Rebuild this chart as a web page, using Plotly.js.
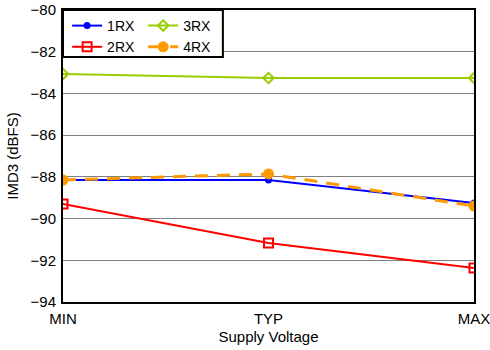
<!DOCTYPE html>
<html>
<head>
<meta charset="utf-8">
<script src="https://cdn.plot.ly/plotly-3.0.1.min.js"></script>
<style>html,body{margin:0;padding:0;background:#fff;}#chart{width:490px;height:350px;}</style>
</head>
<body>
<div id="chart"></div>
<script>
const categories = ["MIN", "TYP", "MAX"];
const rx1 = [-88.15, -88.15, -89.25];
const rx2 = [-89.3, -91.17, -92.37];
const rx3 = [-83.07, -83.26, -83.26];
const rx4 = [-88.15, -87.86, -89.4];
const yTicks = [-80, -82, -84, -86, -88, -90, -92, -94];

const traces = [
  {x: categories, y: rx1, name: "1RX", mode: "lines+markers", legend: "legend",
   line: {color: "#0000ff", width: 2}, marker: {symbol: "circle", size: 7, color: "#0000ff"}},
  {x: categories, y: rx2, name: "2RX", mode: "lines+markers", legend: "legend",
   line: {color: "#ff0000", width: 2}, marker: {symbol: "square-open", size: 9, color: "#ff0000", line: {width: 2}}},
  {x: categories, y: rx3, name: "3RX", mode: "lines+markers", legend: "legend2",
   line: {color: "#99cc00", width: 2}, marker: {symbol: "diamond-open", size: 8, color: "#99cc00", line: {width: 2}}},
  {x: categories, y: rx4, name: "4RX", mode: "lines+markers", legend: "legend2",
   line: {color: "#ff9900", width: 3, dash: "13px,9px"}, marker: {symbol: "circle", size: 11, color: "#ff9900"}}
];

const font = {family: "Liberation Sans, Arial, sans-serif", size: 15, color: "#000"};
const legFont = {family: "Liberation Sans, Arial, sans-serif", size: 14, color: "#000"};

const layout = {
  width: 490, height: 350,
  margin: {l: 63, r: 16, t: 10, b: 48},
  paper_bgcolor: "#fff", plot_bgcolor: "#fff",
  font: font,
  showlegend: true,
  xaxis: {
    type: "category", range: [0, 2], showgrid: false, zeroline: false,
    showline: true, mirror: true, linecolor: "#000", linewidth: 2,
    ticks: "", tickfont: font, ticklabelstandoff: 2,
    title: {text: "Supply Voltage", font: font, standoff: 5}
  },
  yaxis: {
    range: [-94, -80], tickvals: yTicks, showgrid: true, gridcolor: "#808080", gridwidth: 1,
    zeroline: false, showline: true, mirror: true, linecolor: "#000", linewidth: 2,
    ticks: "", tickfont: font, ticklabelstandoff: 2,
    title: {text: "IMD3 (dBFS)", font: font, standoff: 8}
  },
  legend: {x: 0.01, y: 1.0, xanchor: "left", yanchor: "top", bgcolor: "rgba(0,0,0,0)",
           borderwidth: 0, font: legFont, tracegroupgap: 0, itemwidth: 30},
  legend2: {x: 0.195, y: 1.0, xanchor: "left", yanchor: "top", bgcolor: "rgba(0,0,0,0)",
            borderwidth: 0, font: legFont, tracegroupgap: 0, itemwidth: 30},
  shapes: [{type: "rect", xref: "paper", yref: "paper", x0: 0, x1: 0.389, y0: 0.839, y1: 1,
            line: {color: "#000", width: 2}, fillcolor: "#fff", layer: "above"}]
};

Plotly.newPlot("chart", traces, layout, {displayModeBar: false, staticPlot: true});
</script>
</body>
</html>
